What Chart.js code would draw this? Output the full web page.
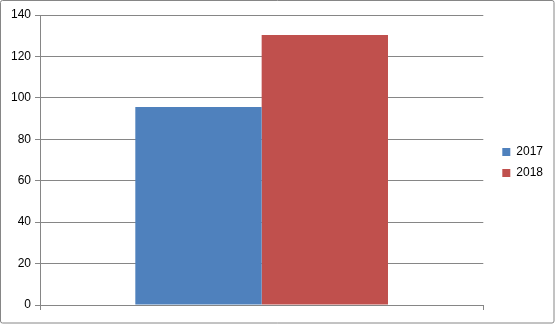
<!DOCTYPE html>
<html>
<head>
<meta charset="utf-8">
<script src="https://cdn.jsdelivr.net/npm/chart.js@4/dist/chart.umd.min.js"></script>
<style>
    html, body { margin: 0; padding: 0; background: #fff; }
    #wrap { width: 555px; height: 324px; position: relative; }
</style>
</head>
<body>
<div id="wrap"><canvas id="bar-chart"></canvas></div>
<script>
// data
var categories = [''];
var seriesNames = ['2017', '2018'];
var values2017 = [95.6];
var values2018 = [130.4];
var seriesColors = ['#4F81BD', '#C0504D'];
var yTicks = [0, 20, 40, 60, 80, 100, 120, 140];

var gridColor = '#868686';

// outer chart frame, like the Excel chart border
var framePlugin = {
    id: 'frame',
    afterDraw: function(chart) {
        var c = chart.ctx;
        c.save();
        c.strokeStyle = gridColor;
        c.lineWidth = 1;
        c.beginPath();
        c.roundRect(0.5, 0.5, chart.width - 1.5, chart.height - 1.5, 2);
        c.stroke();
        c.restore();
    }
};

// leave a small gap between plot area and legend
var legendGapPlugin = {
    id: 'legendGap',
    afterLayout: function(chart) {
        if (chart.legend) {
            chart.legend.left += 10;
            chart.legend.right += 10;
        }
    }
};

var ctx = document.getElementById('bar-chart');
var barChart = new Chart(ctx, {
    type: 'bar',
    data: {
        labels: categories,
        datasets: [{
            label: seriesNames[0],
            data: values2017,
            backgroundColor: seriesColors[0],
            borderWidth: 0
        }, {
            label: seriesNames[1],
            data: values2018,
            backgroundColor: seriesColors[1],
            borderWidth: 0
        }]
    },
    options: {
        responsive: true,
        maintainAspectRatio: false,
        animation: false,
        layout: {
            padding: { left: 0, top: 15, right: 12, bottom: 14 }
        },
        datasets: {
            bar: {
                categoryPercentage: 0.57,
                barPercentage: 1
            }
        },
        scales: {
            x: {
                grid: {
                    display: true,
                    drawOnChartArea: false,
                    color: gridColor,
                    tickLength: 5
                },
                border: { color: gridColor },
                ticks: { display: false }
            },
            y: {
                min: 0,
                max: 140,
                afterBuildTicks: function(scale) {
                    scale.ticks = yTicks.map(function(v) { return { value: v }; });
                },
                afterFit: function(scale) {
                    scale.width = 40;
                },
                grid: {
                    color: gridColor,
                    tickLength: 5
                },
                border: { color: gridColor },
                ticks: {
                    color: '#000',
                    padding: 4,
                    font: { family: 'Liberation Sans', size: 12 }
                }
            }
        },
        plugins: {
            legend: {
                position: 'right',
                labels: {
                    boxWidth: 8,
                    boxHeight: 8,
                    padding: 9,
                    color: '#000',
                    font: { family: 'Liberation Sans', size: 12 }
                }
            },
            tooltip: { enabled: false }
        }
    },
    plugins: [framePlugin, legendGapPlugin]
});
</script>
</body>
</html>
